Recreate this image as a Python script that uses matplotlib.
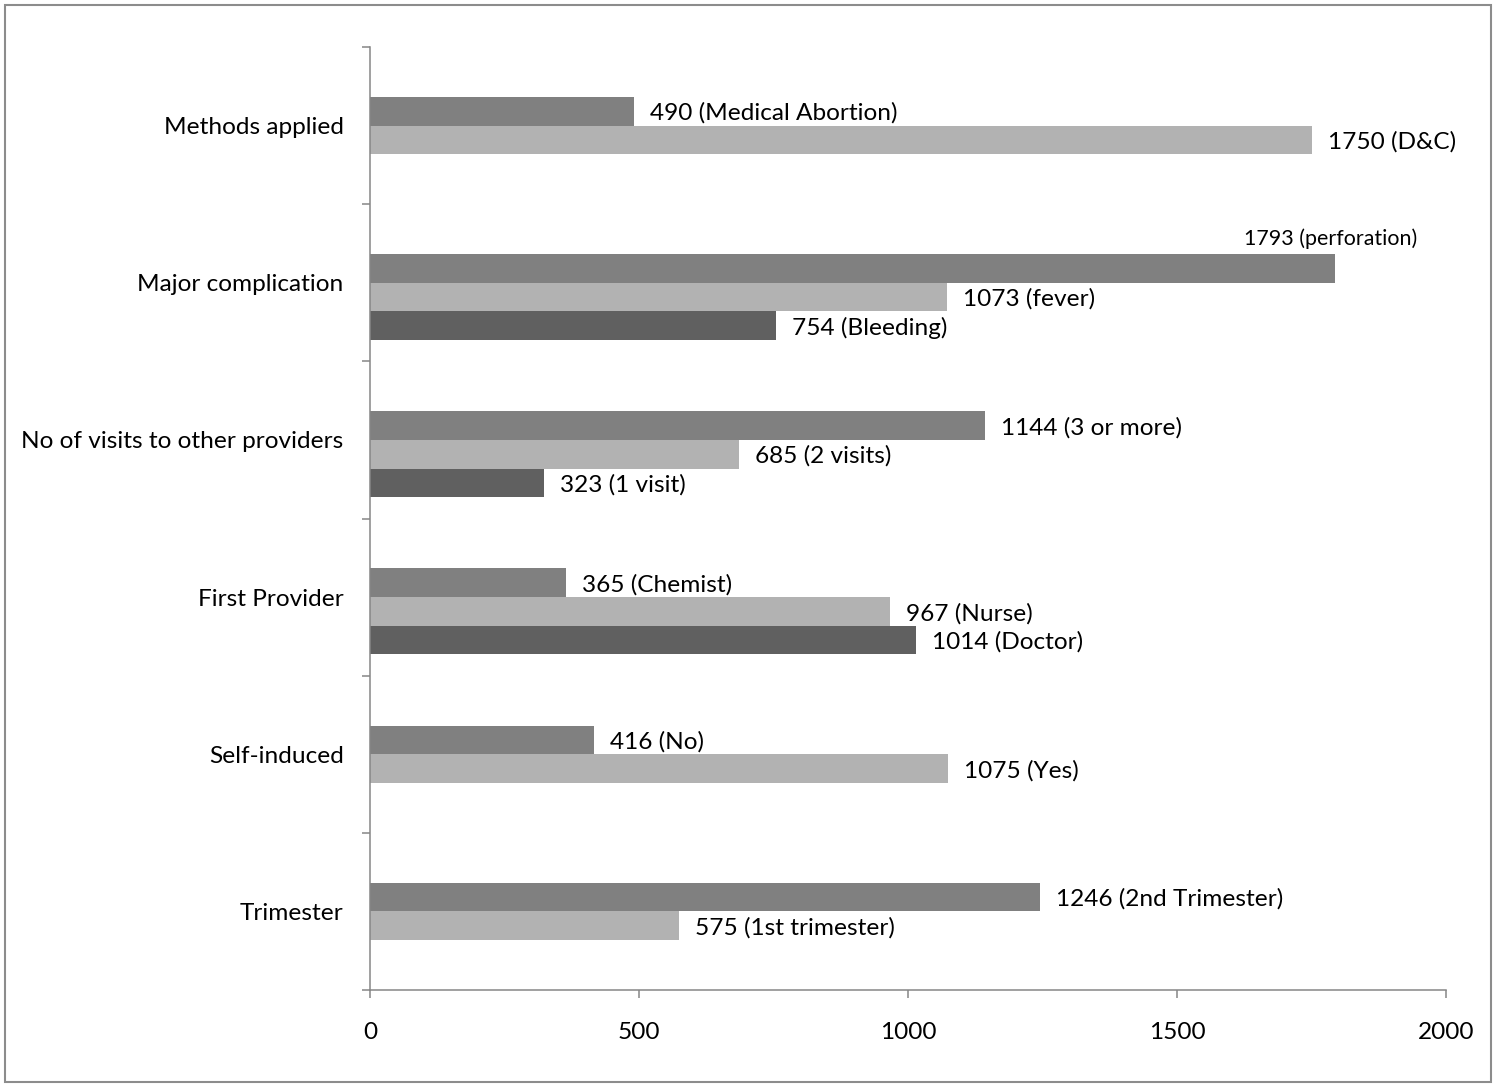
import numpy as np
import matplotlib
matplotlib.use('Agg')
import matplotlib.pyplot as plt
from matplotlib.patches import Rectangle

# data (bottom to top)
categories = ['Trimester', 'Self-induced', 'First Provider',
              'No of visits to other providers', 'Major complication', 'Methods applied']

vals1 = [1246, 416, 365, 1144, 1793, 490]
labs1 = ['2nd Trimester', 'No', 'Chemist', '3 or more', 'perforation', 'Medical Abortion']

vals2 = [575, 1075, 967, 685, 1073, 1750]
labs2 = ['1st trimester', 'Yes', 'Nurse', '2 visits', 'fever', 'D&C']

vals3 = [np.nan, np.nan, 1014, 323, 754, np.nan]
labs3 = [None, None, 'Doctor', '1 visit', 'Bleeding', None]

xticks = [0, 500, 1000, 1500, 2000]

plt.rcParams['font.family'] = ['Lato', 'DejaVu Sans']

fig = plt.figure(figsize=(14.99, 10.88), dpi=100)
ax = fig.add_axes([370/1499, 98/1088, 1076/1499, 943/1088])

axCol = '#868686'
colors = ['#808080', '#b2b2b2', '#606060']
h = 0.182
offsets = [0.5*h, -0.5*h, -1.5*h]
fs = 17.6

y = np.arange(len(categories))
allVals = [vals1, vals2, vals3]
allLabs = [labs1, labs2, labs3]

for s in range(3):
  for i in range(len(categories)):
    v = allVals[s][i]
    if np.isnan(v):
      continue
    yy = y[i] + offsets[s]
    ax.barh(yy, v, height=h, color=colors[s], linewidth=0)
    txt = '%d (%s)' % (v, allLabs[s][i])
    if allLabs[s][i] == 'perforation':
      ax.annotate(txt, xy=(v, yy), xytext=(-4, 30), textcoords='offset pixels',
                  ha='center', va='center', fontsize=15.4, color='black')
    else:
      ax.annotate(txt, xy=(v, yy), xytext=(16, -2), textcoords='offset pixels',
                  ha='left', va='center', fontsize=fs, color='black')

ax.set_xlim(0, 2000)
ax.set_ylim(-0.5, len(categories) - 0.5)
ax.set_xticks(xticks)
ax.set_xticklabels([str(t) for t in xticks], fontsize=fs)
ax.set_yticks(y)
ax.set_yticklabels(categories, fontsize=fs)
ax.set_yticks(np.arange(-0.5, len(categories)), minor=True)

ax.tick_params(axis='y', which='major', length=0, pad=19)
ax.tick_params(axis='y', which='minor', length=6, width=1.1, color=axCol, direction='out')
ax.tick_params(axis='x', length=6, width=1.1, color=axCol, direction='out', pad=17)

for sp in ['top', 'right']:
  ax.spines[sp].set_visible(False)
for sp in ['left', 'bottom']:
  ax.spines[sp].set_color(axCol)
  ax.spines[sp].set_linewidth(1.1)

# outer border
fig.patches.append(Rectangle((5/1499, 6/1088), 1486/1499, 1077/1088, transform=fig.transFigure,
                             fill=False, edgecolor='#8c8c8c', linewidth=1.5))

fig.savefig('out.png', dpi=100)
